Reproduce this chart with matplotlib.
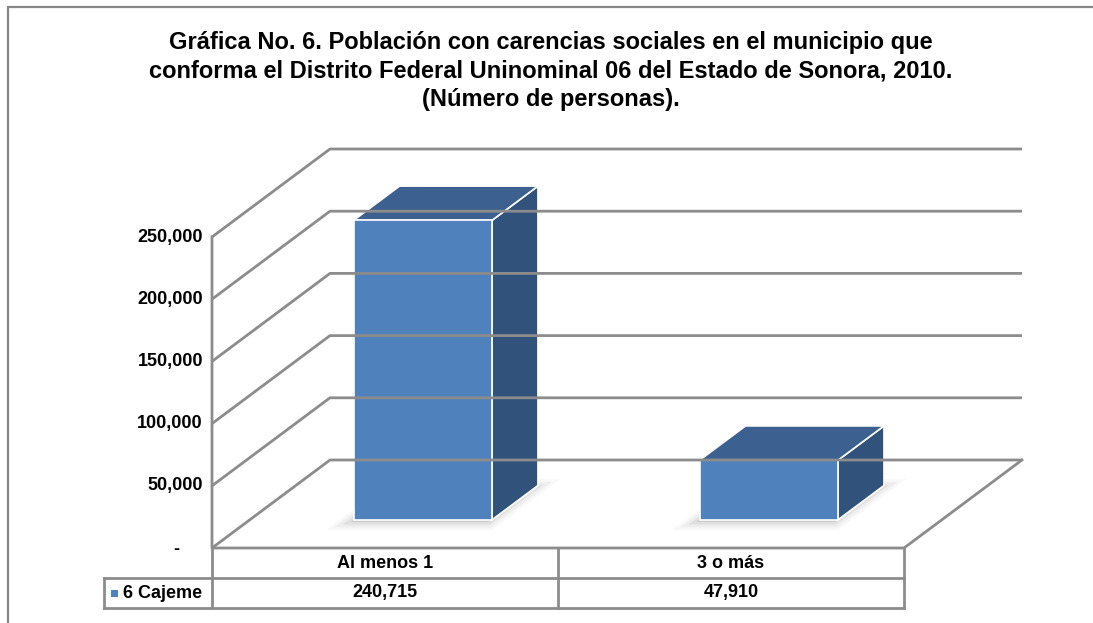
import matplotlib
matplotlib.use("Agg")
import matplotlib.pyplot as plt
from matplotlib.patches import Polygon, Rectangle
from matplotlib.transforms import blended_transform_factory, ScaledTranslation

categories = ["Al menos 1", "3 o más"]
series_name = "6 Cajeme"
values = [240715, 47910]
yticks = [0, 50000, 100000, 150000, 200000, 250000]

TITLE = ("Gráfica No. 6. Población con carencias sociales en el municipio que\n"
         "conforma el Distrito Federal Uninominal 06 del Estado de Sonora, 2010.\n"
         "(Número de personas).")

W, H = 1093, 623
BLUE = "#4F81BD"
TOP = "#3C6190"
SIDE = "#30527B"
GRID = "#8C8C8C"
FS = 13

# oblique 3-D: depth 1 moves DX categories right and DY value units up
DX, DY = 0.341, 70740
D_FRONT, D_BACK = 0.32, 0.71
BAR_W = 0.40
LEG_W = 0.312


def proj(x, v, d):
    return x + d * DX, v + d * DY


def fy(py):
    # pixel row from the top -> figure fraction
    return 1 - py / H


plt.rcParams["font.family"] = ["Liberation Sans", "DejaVu Sans"]
plt.rcParams["font.weight"] = "bold"

fig = plt.figure(figsize=(W / 100, H / 100), dpi=100)
ax = fig.add_axes([212 / W, 1 - 548 / H, 810 / W, 399 / H])
n = len(categories)
ax.set_xlim(0, n + DX)
ax.set_ylim(0, yticks[-1] + DY)
ax.axis("off")

# outer frame (only top and left edges fall inside the canvas)
fig.patches.append(Rectangle((8 / W, -0.2), 2, fy(7) + 0.2, transform=fig.transFigure,
                             fill=False, ec="#868686", lw=1.6))

fig.text(551 / W, fy(71), TITLE, ha="center", va="center", fontsize=17,
         fontweight="bold", linespacing=1.32)

# walls: gridlines on back wall wrapping onto the side wall
for v in yticks:
    pts = [proj(0, v, 0), proj(0, v, 1), proj(n, v, 1)]
    ax.plot(*zip(*pts), color=GRID, lw=2, clip_on=False, solid_capstyle="butt")
    lab = f"{v:,}" if v else "-"
    off = (-9, 0) if v else (-33, -2)
    ax.annotate(lab, xy=(0, v), xytext=off, textcoords="offset pixels",
                ha="right", va="center", fontsize=FS, fontweight="bold")

# floor outline and front vertical axis
floor = [proj(n, 0, 1), proj(n, 0, 0), proj(0, 0, 0), proj(0, yticks[-1], 0)]
ax.plot(*zip(*floor), color=GRID, lw=2, clip_on=False)

# bars
shadow_tr = ax.transData + ScaledTranslation(-0.03, -0.02, fig.dpi_scale_trans)
for i, v in enumerate(values):
    x0 = i + 0.5 - BAR_W / 2
    x1 = x0 + BAR_W
    base = [proj(x0, 0, D_FRONT), proj(x1, 0, D_FRONT),
            proj(x1, 0, D_BACK), proj(x0, 0, D_BACK)]
    for lw, a in [(12, 0.05), (8, 0.08), (4, 0.12)]:
        ax.add_patch(Polygon(base, closed=True, fc="#808080", ec="#808080",
                             lw=lw, alpha=a, transform=shadow_tr))
    front = [proj(x0, 0, D_FRONT), proj(x1, 0, D_FRONT),
             proj(x1, v, D_FRONT), proj(x0, v, D_FRONT)]
    top = [proj(x0, v, D_FRONT), proj(x1, v, D_FRONT),
           proj(x1, v, D_BACK), proj(x0, v, D_BACK)]
    side = [proj(x1, 0, D_FRONT), proj(x1, 0, D_BACK),
            proj(x1, v, D_BACK), proj(x1, v, D_FRONT)]
    for poly, c in [(side, SIDE), (top, TOP), (front, BLUE)]:
        ax.add_patch(Polygon(poly, closed=True, fc=c, ec="white", lw=1.2,
                             joinstyle="miter"))

# data table under the floor
tr = blended_transform_factory(ax.transData, fig.transFigure)
tkw = dict(color=GRID, lw=2, transform=tr, clip_on=False)
for y in (578, 608):
    ax.plot([-LEG_W, n], [fy(y), fy(y)], **tkw)
for x in range(n + 1):
    ax.plot([x, x], [fy(548), fy(608)], **tkw)
ax.plot([-LEG_W, -LEG_W], [fy(578), fy(608)], **tkw)

for i, (cat, v) in enumerate(zip(categories, values)):
    ax.text(i + 0.5, fy(564), cat, transform=tr, ha="center", va="center",
            fontsize=FS, fontweight="bold")
    ax.text(i + 0.5, fy(593), f"{v:,}", transform=tr, ha="center", va="center",
            fontsize=FS, fontweight="bold")

fig.patches.append(Rectangle((111 / W, fy(597)), 7 / W, 7 / H,
                             transform=fig.transFigure, fc=BLUE, ec="none"))
fig.text(123 / W, fy(593), series_name, ha="left", va="center",
         fontsize=FS, fontweight="bold")

fig.savefig("out.png", dpi=100)
